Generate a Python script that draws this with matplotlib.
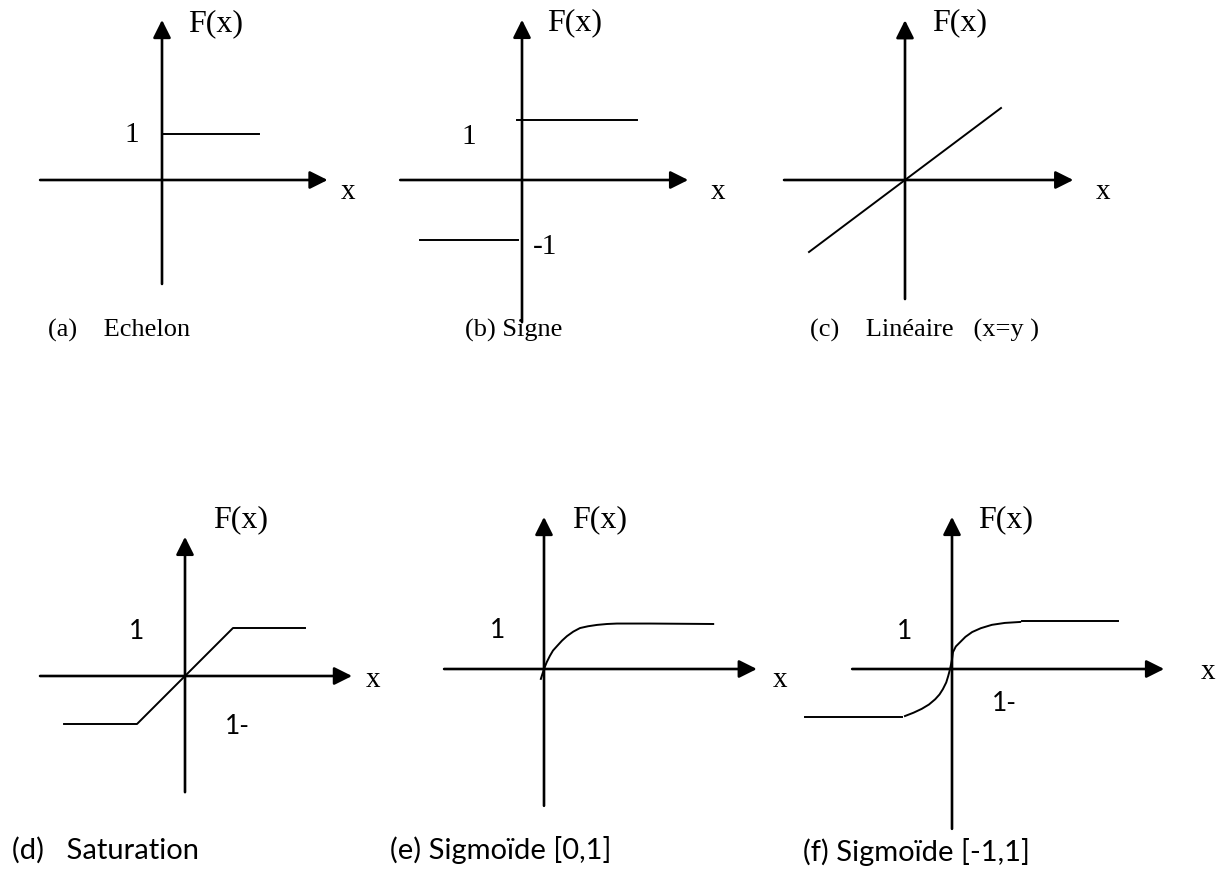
import matplotlib
matplotlib.use("Agg")
import matplotlib.pyplot as plt

W, H = 1231, 870

# (a) Echelon
echelon_x = [0, 2.1]
echelon_y = [1, 1]

# (b) Signe
signe_hi_x = [-0.08, 1.92]
signe_hi_y = [1, 1]
signe_lo_x = [-1.7, -0.07]
signe_lo_y = [-1, -1]

# (c) Linéaire
lin_x = [-1.5, 1.5]
lin_y = [-1.5, 1.5]

# (d) Saturation
sat_x = [-2.52, -1, 1, 2.5]
sat_y = [-1, -1, 1, 1]

# (e) Sigmoïde [0,1]
sig_x = [-0.07, 0, 0.06, 0.13, 0.2, 0.29, 0.4, 0.51, 0.65, 0.80, 0.98, 1.18, 1.4, 1.62, 2.36, 3.76]
sig_y = [-0.22, 0, 0.15, 0.29, 0.41, 0.51, 0.63, 0.73, 0.83, 0.91, 0.95, 0.98, 1.0, 1.01, 1.01, 1.0]

# (f) Sigmoïde [-1,1]
th_lo_x = [-3.06, -1.04]
th_lo_y = [-1, -1]
th_x = [-0.98, -0.8, -0.63, -0.48, -0.35, -0.26, -0.19, -0.12, -0.08, -0.04, 0.0, 0.02,
        0.08, 0.17, 0.28, 0.42, 0.6, 0.83, 1.1, 1.42]
th_y = [-0.98, -0.91, -0.83, -0.74, -0.63, -0.53, -0.42, -0.28, -0.15, 0, 0.2, 0.35,
        0.47, 0.56, 0.67, 0.77, 0.85, 0.92, 0.96, 0.98]
th_hi_x = [1.46, 3.46]
th_hi_y = [1, 1]

# axis extents (left/bottom end, arrow tip) in each panel's units
h_axes = {"a": (-2.65, 3.6), "b": (-2.03, 2.77), "c": (-1.89, 2.63),
          "d": (-3.02, 3.48), "e": (-2.22, 4.73), "f": (-2.08, 4.42)}
v_axes = {"a": (-2.26, 3.48), "b": (-2.37, 2.67), "c": (-2.48, 3.33),
          "d": (-2.42, 2.90), "e": (-3.04, 3.38), "f": (-3.33, 3.17)}

captions_top = ["(a)    Echelon", "(b) Signe", "(c)    Linéaire   (x=y )"]
captions_bottom = ["(d)   Saturation", "(e) Sigmoïde [0,1]", "(f) Sigmoïde [-1,1]"]

SERIF = ["Liberation Serif", "DejaVu Serif"]
SANS = ["Lato", "DejaVu Sans"]

# panel placement: origin in pixels, pixel size of one unit in x and y
layout = {"a": (162, 181, 46, 46), "b": (522, 181, 60, 60), "c": (905, 181, 64, 48),
          "d": (185, 677, 48, 48), "e": (544, 670, 45, 45), "f": (952, 670, 48, 48)}

fig = plt.figure(figsize=(W / 100, H / 100), dpi=100)
fig.patch.set_facecolor("white")


def panel(key):
    ox, oy, ux, uy = layout[key]
    ax = fig.add_axes([0, 0, 1, 1])
    ax.set_xlim(-ox / ux, (W - ox) / ux)
    ax.set_ylim((oy - H) / uy, oy / uy)
    ax.patch.set_alpha(0)
    ax.axis("off")
    x0, x1 = h_axes[key]
    y0, y1 = v_axes[key]
    arrow = dict(arrowstyle="-|>,head_length=0.9,head_width=0.45", mutation_scale=12,
                 lw=1.9, color="black", shrinkA=0, shrinkB=0)
    ax.annotate("", xy=(x1, 0), xytext=(x0, 0), arrowprops=arrow)
    ax.annotate("", xy=(0, y1), xytext=(0, y0), arrowprops=arrow)
    return ax


def label(ax, s, x, y, fam=SERIF, size=21, ha="center"):
    ax.text(x, y, s, family=fam, fontsize=size, ha=ha, va="center", color="black")


lw = 1.4

ax = panel("a")
ax.plot(echelon_x, echelon_y, color="black", lw=lw)
label(ax, "F(x)", 0.57, 3.43, size=23, ha="left")
label(ax, "1", -0.65, 1.0)
label(ax, "x", 4.04, -0.24)

ax = panel("b")
ax.plot(signe_hi_x, signe_hi_y, color="black", lw=lw)
ax.plot(signe_lo_x, signe_lo_y, color="black", lw=lw)
label(ax, "F(x)", 0.42, 2.63, size=23, ha="left")
label(ax, "1", -0.88, 0.73)
label(ax, "-1", 0.38, -1.1)
label(ax, "x", 3.27, -0.18)

ax = panel("c")
ax.plot(lin_x, lin_y, color="black", lw=lw)
label(ax, "F(x)", 0.42, 3.29, size=23, ha="left")
label(ax, "x", 3.09, -0.23)

ax = panel("d")
ax.plot(sat_x, sat_y, color="black", lw=lw)
label(ax, "F(x)", 0.58, 3.27, size=23, ha="left")
label(ax, "1", -1.0, 0.94, fam=SANS, size=19)
label(ax, "1-", 1.1, -1.04, fam=SANS, size=19)
label(ax, "x", 3.92, -0.06)

ax = panel("e")
ax.plot(sig_x, sig_y, color="black", lw=lw)
label(ax, "F(x)", 0.62, 3.33, size=23, ha="left")
label(ax, "1", -1.04, 0.87, fam=SANS, size=19)
label(ax, "x", 5.24, -0.22)

ax = panel("f")
ax.plot(th_lo_x, th_lo_y, color="black", lw=lw)
ax.plot(th_x, th_y, color="black", lw=lw)
ax.plot(th_hi_x, th_hi_y, color="black", lw=lw)
label(ax, "F(x)", 0.54, 3.125, size=23, ha="left")
label(ax, "1", -0.98, 0.81, fam=SANS, size=19)
label(ax, "1-", 1.10, -0.69, fam=SANS, size=19)
label(ax, "x", 5.33, -0.04)

# captions
for s, x in zip(captions_top, [48, 465, 810]):
    fig.text(x / W, 1 - 330 / H, s, family=SERIF, fontsize=19, ha="left", va="center")
for s, x, y in zip(captions_bottom, [12, 390, 803], [850, 850, 852]):
    fig.text(x / W, 1 - y / H, s, family=SANS, fontsize=21, ha="left", va="center")

fig.savefig("out.png", dpi=100, facecolor="white")
